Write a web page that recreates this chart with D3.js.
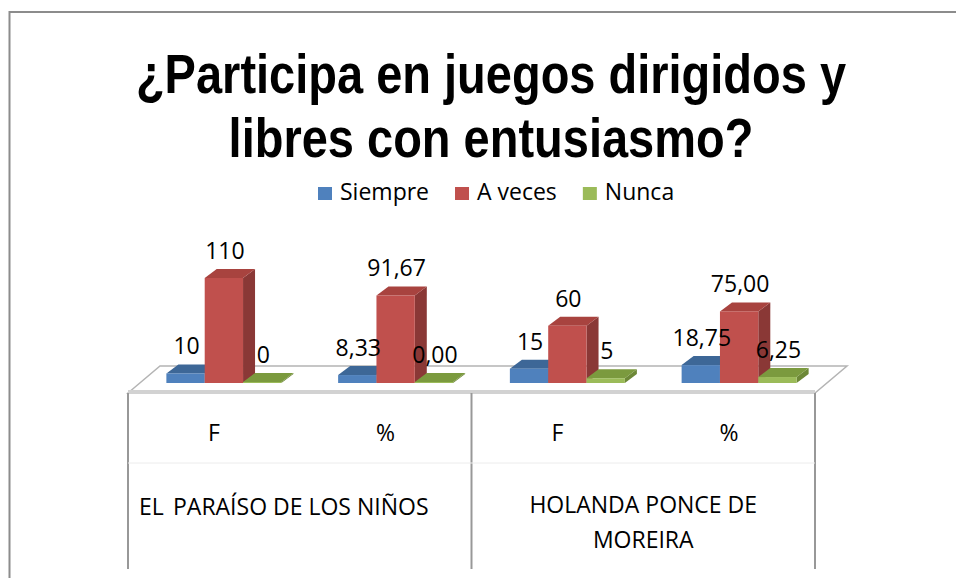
<!DOCTYPE html>
<html>
<head>
<meta charset="utf-8">
<script src="https://cdn.jsdelivr.net/npm/d3@7"></script>
<style>
  html, body { margin: 0; padding: 0; background: #fff; }
  svg { display: block; }
  text { font-family: "Open Sans", "Noto Sans", sans-serif; fill: #000; }
</style>
</head>
<body>
<div id="chart"></div>
<script>
// datos
const categories = ['F', '%', 'F', '%'];
const groupNames = [['EL', 'PARAÍSO DE LOS NIÑOS'], ['HOLANDA PONCE DE', 'MOREIRA']];
const seriesNames = ['Siempre', 'A veces', 'Nunca'];
const siempre = [10, 8.33, 15, 18.75];
const aVeces = [110, 91.67, 60, 75.00];
const nunca = [0, 0.00, 5, 6.25];
const isPercent = [false, true, false, true];
const titleLines = ['¿Participa en juegos dirigidos y', 'libres con entusiasmo?'];

const seriesValues = [siempre, aVeces, nunca];
const colors = {
  'Siempre': { front: '#4f81bd', top: '#3d6797', side: '#375d89' },
  'A veces': { front: '#c0504d', top: '#a8433f', side: '#8a3836' },
  'Nunca':   { front: '#9bbb59', top: '#7b9a3e', side: '#6d8837' }
};

const width = 956, height = 578;
const depth = { dx: 12, dy: -9 };      // profundidad de cada barra
const floorDepth = { dx: 32, dy: -27 }; // profundidad del piso
const fontSize = '23px';

const esFormat = d3.formatLocale({ decimal: ',', thousands: '.', grouping: [3], currency: ['', ''] });
const fmtPct = esFormat.format('.2f');
const fmtInt = esFormat.format('d');

const svg = d3.select('#chart')
  .append('svg')
  .attr('width', width)
  .attr('height', height);

// borde exterior (solo arriba e izquierda visibles)
svg.append('path')
  .attr('d', `M9.5,${height} V12 H${width}`)
  .attr('fill', 'none')
  .attr('stroke', '#8c8c8c')
  .attr('stroke-width', 2);

// titulo en dos lineas
const scaleY = 1.18;
const titleBase = [93, 157];
titleLines.forEach((t, i) => {
  svg.append('text')
    .attr('transform', `translate(491, ${titleBase[i]}) scale(1, ${scaleY})`)
    .attr('text-anchor', 'middle')
    .style('font-family', '"Liberation Sans", Arial, sans-serif')
    .style('font-weight', 'bold')
    .style('font-size', '47px')
    .text(t);
});

// leyenda
const legend = svg.append('g').attr('transform', 'translate(318, 200)');
let lx = 0;
seriesNames.forEach(name => {
  legend.append('rect')
    .attr('x', lx).attr('y', -13)
    .attr('width', 14).attr('height', 13)
    .attr('fill', colors[name].front);
  const t = legend.append('text')
    .attr('x', lx + 22).attr('y', 0)
    .style('font-size', fontSize)
    .text(name);
  lx += 22 + t.node().getComputedTextLength() + 26;
});

// escalas
const x = d3.scaleBand()
  .domain(d3.range(categories.length))
  .range([128, 815]);

const barGroupWidth = 115;
const xSub = d3.scaleBand()
  .domain(seriesNames)
  .range([0, barGroupWidth]);

const y = d3.scaleLinear()
  .domain([0, 110])
  .range([383, 278]);

const floorFront = 393;
const barShift = 10;

// piso
const fx0 = x.range()[0], fx1 = x.range()[1];
svg.append('path')
  .attr('d', `M${fx0},${floorFront} L${fx0 + floorDepth.dx},${floorFront + floorDepth.dy} L${fx1 + floorDepth.dx},${floorFront + floorDepth.dy} L${fx1},${floorFront} Z`)
  .attr('fill', '#fff')
  .attr('stroke', '#b4b4b4')
  .attr('stroke-width', 1.5);
svg.append('rect')
  .attr('x', fx0).attr('y', floorFront - 3)
  .attr('width', fx1 - fx0).attr('height', 4)
  .attr('fill', '#d2d2d2');

// barras 3D
const barLeft = (i, name) => x(i) + x.bandwidth() / 2 + barShift - barGroupWidth / 2 + xSub(name);
const bars = svg.append('g');
categories.forEach((c, i) => {
  seriesNames.forEach((name, s) => {
    const v = seriesValues[s][i];
    const x0 = barLeft(i, name);
    const w = xSub.bandwidth();
    const yb = y(0);
    const yt = Math.min(y(v), yb - 1);
    const col = colors[name];
    const g = bars.append('g');
    // cara lateral
    g.append('path')
      .attr('d', `M${x0 + w},${yb} L${x0 + w + depth.dx},${yb + depth.dy} L${x0 + w + depth.dx},${yt + depth.dy} L${x0 + w},${yt} Z`)
      .attr('fill', col.side);
    // cara superior
    g.append('path')
      .attr('d', `M${x0},${yt} L${x0 + depth.dx},${yt + depth.dy} L${x0 + w + depth.dx},${yt + depth.dy} L${x0 + w},${yt} Z`)
      .attr('fill', col.top);
    // cara frontal
    g.append('rect')
      .attr('x', x0).attr('y', yt)
      .attr('width', w).attr('height', yb - yt)
      .attr('fill', col.front);
  });
});

// etiquetas de datos
const labels = svg.append('g');
categories.forEach((c, i) => {
  seriesNames.forEach((name, s) => {
    const v = seriesValues[s][i];
    labels.append('text')
      .attr('x', barLeft(i, name) + xSub.bandwidth() / 2 + 1)
      .attr('y', Math.min(y(v), y(0) - 1) + depth.dy - 10)
      .attr('text-anchor', 'middle')
      .style('font-size', fontSize)
      .text(isPercent[i] ? fmtPct(v) : fmtInt(v));
  });
});

// tabla del eje de categorias
const axisBottom = 569;
const grid = svg.append('g');
[0, 2, 4].forEach(k => {
  const gx = k < categories.length ? x(k) : fx1;
  grid.append('line')
    .attr('x1', gx).attr('x2', gx)
    .attr('y1', floorFront).attr('y2', axisBottom)
    .attr('stroke', '#989898')
    .attr('stroke-width', 2);
});
grid.append('line')
  .attr('x1', fx0).attr('x2', fx1)
  .attr('y1', 463).attr('y2', 463)
  .attr('stroke', '#ececec')
  .attr('stroke-width', 1);

categories.forEach((c, i) => {
  svg.append('text')
    .attr('x', x(i) + x.bandwidth() / 2)
    .attr('y', 441)
    .attr('text-anchor', 'middle')
    .style('font-size', fontSize)
    .text(c);
});

// nombres de las instituciones
const g1 = x(0);
svg.append('text')
  .attr('x', g1 + 11).attr('y', 515)
  .style('font-size', fontSize)
  .text(groupNames[0][0]);
svg.append('text')
  .attr('x', g1 + 45).attr('y', 515)
  .style('font-size', fontSize)
  .text(groupNames[0][1]);

const g2c = (x(2) + fx1) / 2;
groupNames[1].forEach((t, k) => {
  svg.append('text')
    .attr('x', g2c).attr('y', 513 + k * 35)
    .attr('text-anchor', 'middle')
    .style('font-size', fontSize)
    .text(t);
});
</script>
</body>
</html>
